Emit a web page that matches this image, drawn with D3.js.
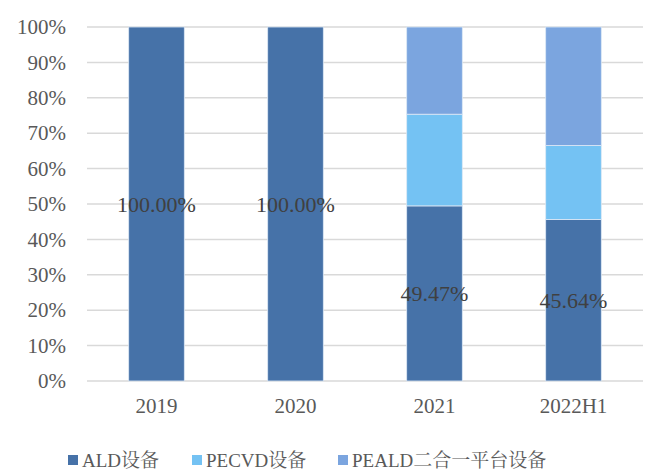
<!DOCTYPE html>
<html>
<head>
<meta charset="utf-8">
<script src="https://cdn.jsdelivr.net/npm/d3@7"></script>
<style>
  html, body { margin: 0; padding: 0; background: #fff; }
  svg { display: block; }
</style>
</head>
<body>
<script>
// Share of revenue by equipment type (percent)
const categories = ["2019", "2020", "2021", "2022H1"];
const seriesNames = ["ALD设备", "PECVD设备", "PEALD二合一平台设备"];
const aldShare = [100.00, 100.00, 49.47, 45.64];
const pecvdShare = [0, 0, 25.9, 20.9];
const pealdShare = [0, 0, 24.63, 33.46];
const yTicks = [0, 10, 20, 30, 40, 50, 60, 70, 80, 90, 100];
const colors = ["#4672A8", "#74C2F3", "#7BA5DF"];

const W = 647, H = 473;
const margin = { left: 87, right: 4, top: 27, bottom: 92 };
const fontSerif = "'Liberation Serif', 'Times New Roman', serif";
const fontCJK = "'Liberation Serif', 'Noto Serif CJK SC', 'Noto Sans CJK SC', serif";

const svg = d3.select("body").append("svg").attr("width", W).attr("height", H);

const x = d3.scaleBand().domain(categories).range([margin.left, W - margin.right]).paddingInner(0.6).paddingOuter(0.3);
const y = d3.scaleLinear().domain([0, 100]).range([H - margin.bottom, margin.top]);

// gridlines
svg.append("g").selectAll("line").data(yTicks).join("line")
  .attr("x1", margin.left).attr("x2", W - margin.right)
  .attr("y1", d => y(d)).attr("y2", d => y(d))
  .attr("stroke", "#D9D9D9").attr("stroke-width", 1.5);

// y axis labels
const yAxis = d3.axisLeft(y).tickValues(yTicks).tickFormat(d => d + "%").tickSize(0).tickPadding(0);
const yg = svg.append("g").attr("transform", `translate(${margin.left - 21},0)`).call(yAxis);
yg.select(".domain").remove();
yg.selectAll("text").attr("font-family", fontSerif).attr("font-size", 21).attr("fill", "#595959");

// x axis labels
const xAxis = d3.axisBottom(x).tickSize(0).tickPadding(0);
const xg = svg.append("g").attr("transform", `translate(0,${y(0) + 17})`).call(xAxis);
xg.select(".domain").remove();
xg.selectAll("text").attr("font-family", fontSerif).attr("font-size", 21).attr("fill", "#595959");

// stacked bars
const rows = categories.map((c, i) => ({ cat: c, s0: aldShare[i], s1: pecvdShare[i], s2: pealdShare[i] }));
const stack = d3.stack().keys(["s0", "s1", "s2"]);
const layers = stack(rows);

svg.append("g").selectAll("g").data(layers).join("g")
  .attr("fill", (d, i) => colors[i])
  .selectAll("rect").data(d => d.filter(p => p[1] - p[0] > 0)).join("rect")
  .attr("x", d => x(d.data.cat))
  .attr("width", x.bandwidth())
  .attr("y", d => y(d[1]))
  .attr("height", d => y(d[0]) - y(d[1]))
  .attr("stroke", "#DCE8F6").attr("stroke-width", 0.8);

// value labels on the ALD segment
svg.append("g").selectAll("text").data(layers[0]).join("text")
  .attr("x", d => x(d.data.cat) + x.bandwidth() / 2)
  .attr("y", d => (y(d[0]) + y(d[1])) / 2)
  .attr("dy", "0.35em")
  .attr("text-anchor", "middle")
  .attr("font-family", fontSerif).attr("font-size", 22).attr("fill", "#404040")
  .text(d => d.data.s0.toFixed(2) + "%");

// legend
const legendX = [68, 192, 338];
const lg = svg.append("g").attr("transform", `translate(0,460)`);
seriesNames.forEach((name, i) => {
  lg.append("rect").attr("x", legendX[i]).attr("y", -5).attr("width", 10).attr("height", 10).attr("fill", colors[i]);
  lg.append("text").attr("x", legendX[i] + 14).attr("y", 0).attr("dy", "0.35em")
    .attr("font-family", fontCJK).attr("font-size", 19).attr("fill", "#595959").text(name);
});
</script>
</body>
</html>
